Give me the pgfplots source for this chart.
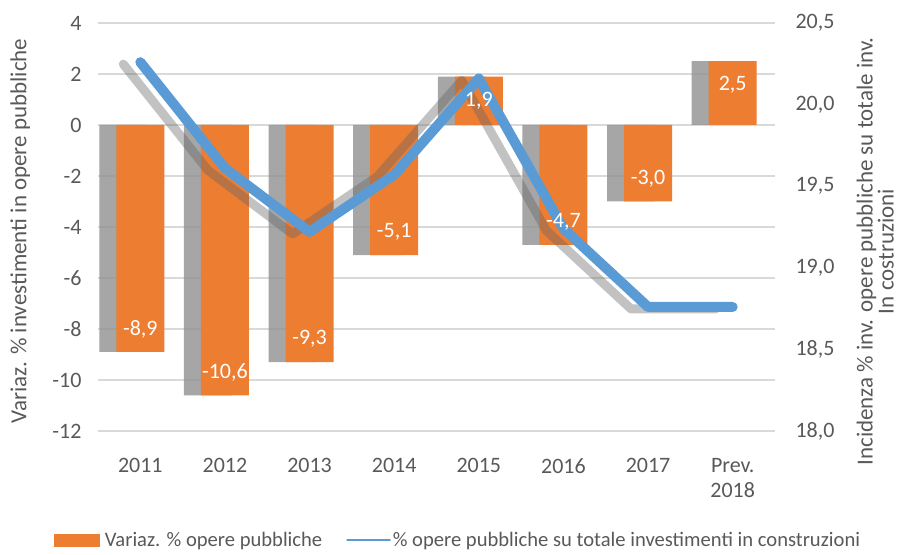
\documentclass[border=0pt]{standalone}
\usepackage{fontspec}
\setmainfont{Carlito}
\usepackage{pgfplots}
\pgfplotsset{compat=1.18}

\definecolor{barorange}{HTML}{ED7D31}
\definecolor{lineblue}{HTML}{5B9BD5}
\definecolor{gridgray}{HTML}{D9D9D9}
\definecolor{txtgray}{HTML}{595959}
\definecolor{shadowgray}{HTML}{969696}

\newcommand{\tickfont}{\fontsize{22}{25}\selectfont}
\newcommand{\labelfont}{\fontsize{23}{21}\selectfont}
\newcommand{\legfont}{\fontsize{20.6}{25}\selectfont}

\begin{document}
\begin{tikzpicture}
\pgfplotsset{
  base/.style={
    scale only axis, width=677pt, height=408pt,
    xmin=-0.5, xmax=7.5,
    axis line style={draw=none},
    major tick length=0pt,
    tick label style={font=\tickfont, text=txtgray},
    label style={font=\labelfont, text=txtgray},
    /pgf/number format/assume math mode=true,
  },
}

% left axis: yearly change, bars
\begin{axis}[base,
  ymin=-12, ymax=4, ytick={-12,-10,...,4},
  xtick={0,...,7},
  xticklabels={2011,2012,2013,2014,2015,2016,2017,{Prev.\\2018}},
  xticklabel style={align=center, yshift=-24pt},
  yticklabel style={xshift=-13pt},
  ymajorgrids, grid style={gridgray, line width=1.2pt},
  ylabel={Variaz. \% investimenti in opere pubbliche},
  ylabel style={at={(axis description cs:-0.115,0.49)}, anchor=center},
]
% drop shadow of the bars
\addplot[ybar, bar width=48pt, bar shift=-17pt, fill=shadowgray, draw=none, opacity=0.85]
  coordinates {(0,-8.9) (1,-10.6) (2,-9.3) (3,-5.1) (4,1.9) (5,-4.7) (6,-3.0) (7,2.5)};
\addplot[ybar, bar width=48pt, bar shift=0pt, fill=barorange, draw=none]
  coordinates {(0,-8.9) (1,-10.6) (2,-9.3) (3,-5.1) (4,1.9) (5,-4.7) (6,-3.0) (7,2.5)};
\end{axis}

% right axis: share of public works, line
\begin{axis}[base,
  ymin=18, ymax=20.5, ytick={18,18.5,...,20.5},
  axis x line=none, axis y line*=right,
  yticklabel style={xshift=17pt, /pgf/number format/.cd, fixed, fixed zerofill, precision=1, use comma},
  ylabel={Incidenza \% inv. opere pubbliche su totale inv.\\In costruzioni},
  ylabel style={at={(axis description cs:1.148,0.44)}, anchor=center, align=center},
  legend style={at={(axis description cs:-0.066,-0.267)}, anchor=west,
    draw=none, fill=none, font=\legfont, text=txtgray, inner sep=0pt,
    legend columns=2, /tikz/every even column/.append style={column sep=22pt}},
  legend cell align=left,
]
\addlegendimage{legend image code/.code={\fill[barorange] (0pt,-6pt) rectangle (45pt,6pt);}}
\addlegendentry{\hspace{4pt}Variaz. \% opere pubbliche}
% drop shadow of the line
\addplot[forget plot, black!60, opacity=0.4, line width=9pt, line cap=round, line join=round,
  xshift=-17pt, yshift=-2pt]
  coordinates {(0,20.26) (1,19.61) (2,19.22) (3,19.57) (4,20.16) (5,19.24) (6,18.76) (7,18.76)};
\addplot[lineblue, line width=10pt, line cap=round, line join=round,
  legend image code/.code={\draw[lineblue, line width=1.5pt] (0pt,0pt) -- (43pt,0pt);}]
  coordinates {(0,20.26) (1,19.61) (2,19.22) (3,19.57) (4,20.16) (5,19.24) (6,18.76) (7,18.76)};
\addlegendentry{\% opere pubbliche su totale investimenti in construzioni}
\end{axis}

% value labels of the bars, on top of the line
\begin{axis}[base, hide axis, ymin=-12, ymax=4]
\addplot[ybar, bar width=48pt, bar shift=0pt, draw=none, fill=none,
  visualization depends on={rawy \as \rawy},
  nodes near coords={\pgfmathprintnumber[fixed,fixed zerofill,precision=1,use comma]{\pgfplotspointmeta}},
  every node near coord/.append style={font=\tickfont, text=white, anchor=center,
    yshift={ifthenelse(\rawy<0,23,-24)}}]
  coordinates {(0,-8.9) (1,-10.6) (2,-9.3) (3,-5.1) (4,1.9) (5,-4.7) (6,-3.0) (7,2.5)};
\end{axis}

\pgfresetboundingbox
\path[use as bounding box] (-98pt,-123pt) rectangle (801pt,431pt);
\end{tikzpicture}
\end{document}
